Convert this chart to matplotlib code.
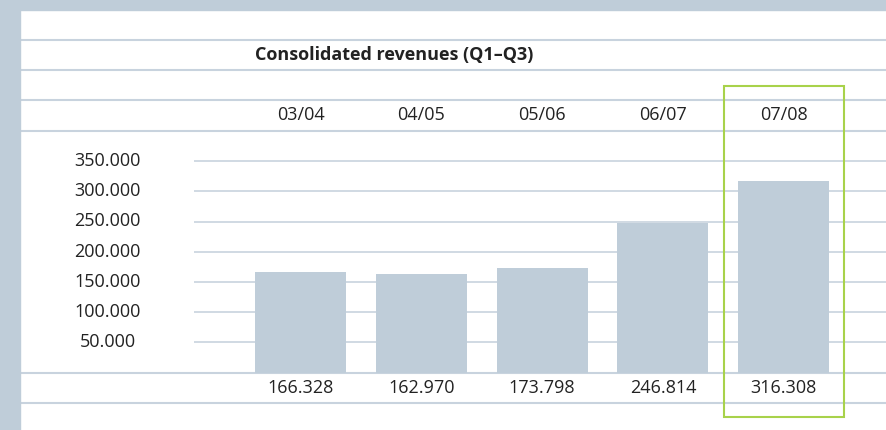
import matplotlib.pyplot as plt
import matplotlib.transforms as mtransforms
from matplotlib.patches import Rectangle

years = ["03/04", "04/05", "05/06", "06/07", "07/08"]
revenues = [166328, 162970, 173798, 246814, 316308]
value_labels = ["166.328", "162.970", "173.798", "246.814", "316.308"]
ticks = [50000, 100000, 150000, 200000, 250000, 300000, 350000]
tick_labels = ["50.000", "100.000", "150.000", "200.000", "250.000", "300.000", "350.000"]

W, H = 887, 430
plt.rcParams['font.family'] = ['Open Sans', 'DejaVu Sans']
fig = plt.figure(figsize=(W / 100, H / 100), dpi=100)
ax = fig.add_axes([0, 0, 1, 1])
ax.axis("off")

# pixel mapping: category i centre at 300.5 + 120.8*i, value 0 at y=372.5, 30.2 px per 50k
xstep, x0 = 120.8, 300.5
ypx0, yscale = 372.5, 30.2 / 50000
ax.set_xlim(-x0 / xstep, (W - x0) / xstep)
ax.set_ylim(-(H - ypx0) / yscale, ypx0 / yscale)

line_col = "#c8d3de"
bar_col = "#bfcdd9"
txt_col = "#222222"

def fy(px):
    return 1 - px / H

def fx(px):
    return px / W

# side and top frame
fig.patches.append(Rectangle((0, 0), fx(20), 1, transform=fig.transFigure, color=bar_col, zorder=0))
fig.patches.append(Rectangle((0, fy(10)), 1, 1, transform=fig.transFigure, color=bar_col, zorder=0))

# full-width rule lines
for py in [40, 70, 100, 131, 372.5, 403]:
    ax.plot([fx(20), 1], [fy(py), fy(py)], transform=ax.transAxes, color=line_col, lw=1.5, zorder=1)

# gridlines starting at x=194 px
gx0 = (194 - x0) / xstep
ax.hlines(ticks, gx0, ax.get_xlim()[1], color=line_col, lw=1.2, zorder=1)

xs = list(range(len(years)))
ax.bar(xs, revenues, width=91 / xstep, color=bar_col, zorder=2)

lab_tr = mtransforms.blended_transform_factory(ax.transAxes, ax.transData)
for t, lab in zip(ticks, tick_labels):
    ax.text(fx(107.5), t, lab, transform=lab_tr, ha="center", va="center", fontsize=13, color=txt_col)

cat_tr = mtransforms.blended_transform_factory(ax.transData, ax.transAxes)
for i, (yr, vl) in enumerate(zip(years, value_labels)):
    ax.text(i, fy(115), yr, transform=cat_tr, ha="center", va="center", fontsize=13, color=txt_col)
    ax.text(i, fy(388), vl, transform=cat_tr, ha="center", va="center", fontsize=13, color=txt_col)

ax.text(fx(255), fy(55), "Consolidated revenues (Q1\u2013Q3)", transform=ax.transAxes,
        ha="left", va="center", fontsize=13, fontweight="bold", color=txt_col)

# highlight box around latest year
hi = len(years) - 1
bw = 120 / xstep
ax.add_patch(Rectangle((hi - bw / 2, fy(417)), bw, fy(86) - fy(417), transform=cat_tr,
                       fill=False, edgecolor="#a8d24b", lw=1.5, zorder=3))

fig.savefig("out.png", dpi=100)
